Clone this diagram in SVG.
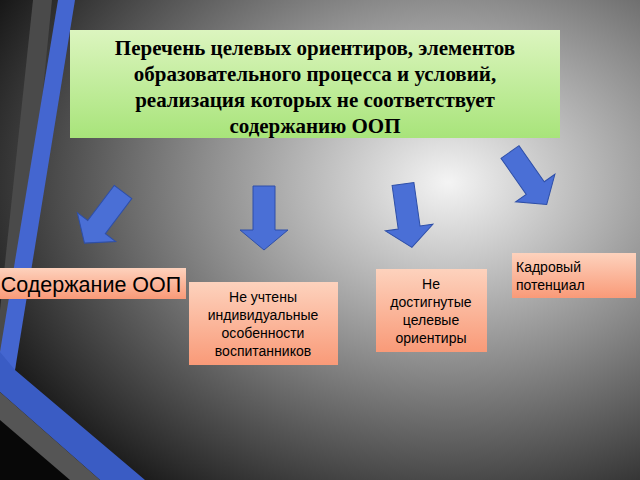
<svg xmlns="http://www.w3.org/2000/svg" width="640" height="480" viewBox="0 0 640 480">
<defs>
<radialGradient id="bg" cx="0.7" cy="0.38" r="0.85"><stop offset="0" stop-color="#f4f4f4"/><stop offset="0.45" stop-color="#8c8c8c"/><stop offset="1" stop-color="#080808"/></radialGradient>
<linearGradient id="gr" x1="0" y1="0" x2="0" y2="1"><stop offset="0" stop-color="#dcf5bf"/><stop offset="1" stop-color="#a8e47a"/></linearGradient>
<linearGradient id="or" x1="0" y1="0" x2="0" y2="1"><stop offset="0" stop-color="#fdd2bd"/><stop offset="1" stop-color="#f99a78"/></linearGradient>
<polygon id="arr" points="-11,0 11,0 11,44 24,44 0,64 -24,44 -11,44"/>
</defs>
<style>
.ar{fill:#4a6fd6;stroke:#2e4fa8;stroke-width:1}
.t{font-family:"Liberation Sans",Arial,sans-serif;fill:#000;text-anchor:middle}
.h{font-family:"Liberation Serif","Times New Roman",serif;font-weight:bold;font-size:21px;text-anchor:middle;fill:#000}
</style>
<rect width="640" height="480" fill="url(#bg)"/>
<polygon points="33,0 52,0 15,370 0,372 0,310" fill="#4a4a4a"/>
<polygon points="58,0 75,0 15,370 0,372 0,352" fill="#4466d0"/>
<polygon points="0,352 15,370 145,480 100,480 0,392" fill="#3a5cc4"/>
<polygon points="0,392 100,480 70,480 0,420" fill="#555"/>
<g id="title"><rect x="70" y="30" width="490" height="108" fill="url(#gr)"/>
<text class="h" x="315" y="55">Перечень целевых ориентиров, элементов</text>
<text class="h" x="315" y="81">образовательного процесса и условий,</text>
<text class="h" x="315" y="107">реализация которых не соответствует</text>
<text class="h" x="315" y="133">содержанию ООП</text></g>
<g id="connectors">
<use href="#arr" class="ar" transform="translate(123,192) rotate(37)"/>
<use href="#arr" class="ar" transform="translate(264,186)"/>
<use href="#arr" class="ar" transform="translate(403,184) rotate(-8)"/>
<use href="#arr" class="ar" transform="translate(510,152) rotate(-35)"/>
</g>
<g id="n1"><rect x="0" y="268" width="186" height="31" fill="url(#or)"/><text class="t" x="91" y="292" font-size="21.5">Содержание ООП</text></g>
<g id="n2"><rect x="189" y="282" width="149" height="83" fill="url(#or)"/>
<text class="t" x="263" y="302" font-size="14">Не учтены</text><text class="t" x="263" y="320" font-size="14">индивидуальные</text><text class="t" x="263" y="338" font-size="14">особенности</text><text class="t" x="263" y="356" font-size="14">воспитанников</text></g>
<g id="n3"><rect x="376" y="269" width="111" height="83" fill="url(#or)"/>
<text class="t" x="431" y="289" font-size="14">Не</text><text class="t" x="431" y="307" font-size="14">достигнутые</text><text class="t" x="431" y="325" font-size="14">целевые</text><text class="t" x="431" y="343" font-size="14">ориентиры</text></g>
<g id="n4"><rect x="512" y="253" width="124" height="45" fill="url(#or)"/>
<text x="516" y="272" font-size="14" font-family="Liberation Sans,Arial,sans-serif">Кадровый</text><text x="516" y="290" font-size="14" font-family="Liberation Sans,Arial,sans-serif">потенциал</text></g>
</svg>
